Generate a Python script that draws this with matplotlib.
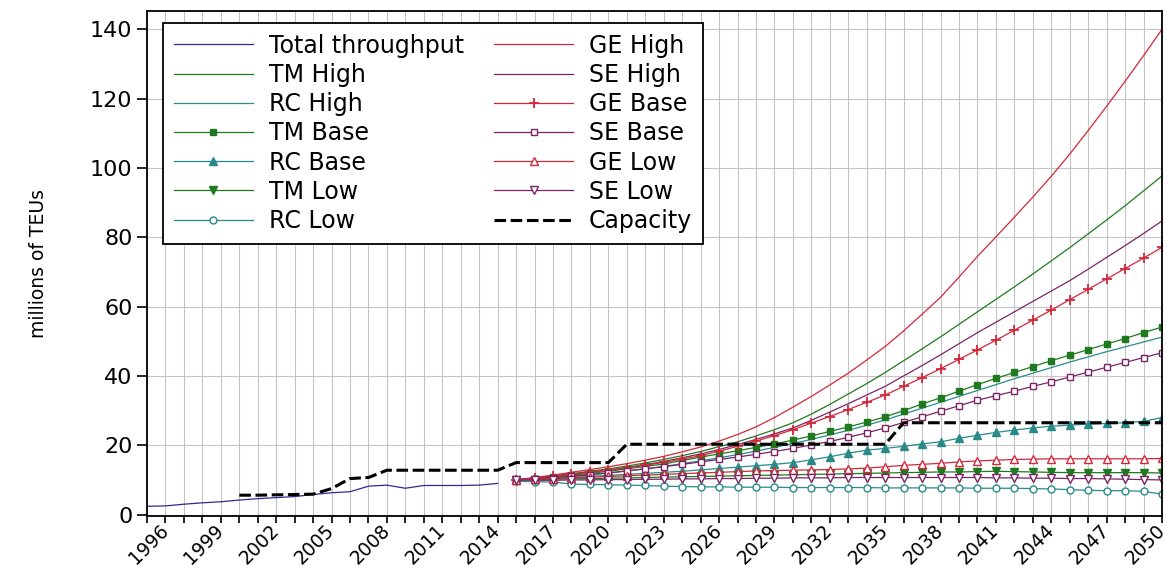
import matplotlib
matplotlib.use("Agg")
import matplotlib.pyplot as plt
import matplotlib.transforms as mtransforms
import numpy as np

plt.rcParams['font.family'] = ['DejaVu Sans']

# --- data (millions of TEUs) ---
hist_years = list(range(1995, 2015))
total_throughput = [2.4, 2.5, 3.0, 3.4, 3.7, 4.2, 4.6, 4.9, 5.2, 5.8,
                    6.3, 6.6, 8.2, 8.5, 7.6, 8.4, 8.4, 8.4, 8.5, 9.0]

cap_years = list(range(2000, 2051))
capacity = [5.6, 5.6, 5.7, 5.8, 5.9, 7.5, 10.4, 10.7, 12.8, 12.8,
            12.8, 12.8, 12.8, 12.8, 12.8, 15.0, 15.0, 15.0, 15.0, 15.0,
            15.0, 20.3, 20.3, 20.3, 20.3, 20.3, 20.3, 20.3, 20.3, 20.3,
            20.3, 20.3, 20.3, 20.3, 20.3, 20.3, 26.5, 26.5, 26.5, 26.5,
            26.5, 26.5, 26.5, 26.5, 26.5, 26.5, 26.5, 26.5, 26.5, 26.5,
            26.5]

fc_years = list(range(2015, 2051))
ge_high = [10.0, 10.7, 11.4, 12.2, 13.0, 13.8, 14.7, 15.7, 16.8, 18.1,
           19.5, 21.2, 23.1, 25.3, 28.0, 31.0, 34.1, 37.4, 40.8, 44.6,
           48.5, 53.0, 57.8, 62.7, 68.5, 74.5, 80.1, 85.8, 91.6, 97.6,
           104.0, 110.8, 117.8, 125.0, 132.4, 140.0]
tm_high = [10.0, 10.6, 11.2, 11.8, 12.5, 13.2, 14.0, 14.9, 15.9, 17.0,
           18.2, 19.6, 21.0, 22.7, 24.5, 26.5, 29.0, 31.8, 34.8, 37.8,
           41.0, 44.4, 47.8, 51.3, 54.9, 58.5, 62.1, 65.7, 69.4, 73.2,
           77.0, 81.0, 85.0, 89.1, 93.4, 97.7]
se_high = [10.0, 10.5, 11.0, 11.6, 12.2, 12.8, 13.6, 14.4, 15.3, 16.4,
           17.5, 18.8, 20.2, 21.7, 23.3, 25.0, 27.2, 29.6, 32.0, 34.5,
           37.0, 40.0, 43.0, 46.1, 49.3, 52.5, 55.5, 58.5, 61.5, 64.5,
           67.5, 70.8, 74.2, 77.6, 81.1, 84.7]
ge_base = [10.0, 10.5, 11.0, 11.6, 12.2, 12.8, 13.5, 14.2, 15.1, 16.0,
           17.0, 18.3, 19.7, 21.2, 22.8, 24.5, 26.4, 28.3, 30.3, 32.4,
           34.5, 37.0, 39.5, 42.1, 44.8, 47.5, 50.3, 53.2, 56.1, 59.0,
           62.0, 65.0, 68.0, 71.0, 74.0, 77.1]
tm_base = [10.0, 10.4, 10.9, 11.4, 11.9, 12.5, 13.2, 13.9, 14.6, 15.6,
           16.6, 17.5, 18.4, 19.4, 20.4, 21.5, 22.7, 24.0, 25.3, 26.7,
           28.2, 30.0, 31.9, 33.7, 35.6, 37.5, 39.3, 41.0, 42.7, 44.4,
           46.0, 47.6, 49.2, 50.8, 52.5, 54.1]
rc_high = [10.0, 10.3, 10.7, 11.1, 11.5, 12.0, 12.6, 13.2, 13.9, 14.7,
           15.5, 16.4, 17.3, 18.3, 19.4, 20.5, 21.7, 23.0, 24.3, 25.8,
           27.3, 29.0, 30.7, 32.4, 34.1, 35.8, 37.5, 39.2, 40.8, 42.4,
           44.0, 45.5, 47.0, 48.4, 49.8, 51.2]
se_base = [10.0, 10.3, 10.6, 11.0, 11.5, 12.0, 12.6, 13.2, 13.8, 14.5,
           15.2, 15.9, 16.6, 17.4, 18.2, 19.1, 20.1, 21.1, 22.3, 23.6,
           25.0, 26.6, 28.2, 29.8, 31.4, 33.0, 34.3, 35.6, 37.0, 38.3,
           39.7, 41.1, 42.5, 43.9, 45.3, 46.7]
rc_base = [10.0, 10.2, 10.4, 10.7, 11.0, 11.3, 11.6, 11.9, 12.2, 12.5,
           12.9, 13.3, 13.7, 14.1, 14.5, 15.0, 15.8, 16.7, 17.7, 18.6,
           19.1, 19.7, 20.4, 21.0, 22.0, 22.9, 23.7, 24.4, 25.0, 25.5,
           25.8, 26.1, 26.3, 26.5, 26.9, 28.0]
ge_low = [10.0, 10.2, 10.4, 10.6, 10.8, 11.0, 11.2, 11.4, 11.6, 11.8,
          12.0, 12.2, 12.4, 12.6, 12.7, 12.8, 12.9, 13.0, 13.2, 13.4,
          13.8, 14.2, 14.5, 14.8, 15.2, 15.5, 15.7, 15.9, 16.0, 16.1,
          16.1, 16.1, 16.1, 16.1, 16.1, 16.2]
tm_low = [10.0, 10.1, 10.2, 10.3, 10.4, 10.5, 10.6, 10.7, 10.8, 10.9,
          11.0, 11.1, 11.2, 11.3, 11.4, 11.5, 11.6, 11.7, 11.8, 11.9,
          12.0, 12.1, 12.2, 12.3, 12.3, 12.4, 12.5, 12.4, 12.3, 12.2,
          12.1, 12.1, 12.1, 12.1, 12.1, 12.0]
se_low = [10.0, 9.9, 9.9, 10.0, 10.0, 10.1, 10.1, 10.2, 10.2, 10.3,
          10.3, 10.4, 10.4, 10.5, 10.5, 10.6, 10.6, 10.6, 10.7, 10.7,
          10.7, 10.7, 10.7, 10.7, 10.7, 10.7, 10.6, 10.6, 10.5, 10.5,
          10.4, 10.4, 10.3, 10.2, 10.1, 10.0]
rc_low = [9.6, 9.5, 9.4, 8.8, 8.7, 8.6, 8.5, 8.4, 8.2, 8.1,
          8.0, 8.0, 7.9, 7.9, 7.9, 7.8, 7.8, 7.8, 7.8, 7.8,
          7.7, 7.7, 7.7, 7.7, 7.7, 7.6, 7.6, 7.6, 7.5, 7.4,
          7.2, 7.0, 6.9, 6.9, 6.7, 5.9]

label_years = list(range(1996, 2051, 3))

# colours
c_total = '#2b2b92'
c_tm = '#1f7a1f'
c_rc = '#2a8a8a'
c_ge = '#d2283a'
c_se = '#7a2466'

fig = plt.figure(figsize=(11.67, 5.78), dpi=100)
ax = fig.add_axes([0.126, 0.1073, 0.8697, 0.8737])

lw = 0.9
ms = 5
h = {}
h['Total throughput'], = ax.plot(hist_years, total_throughput, color=c_total, lw=lw)
h['TM High'], = ax.plot(fc_years, tm_high, color=c_tm, lw=lw)
h['RC High'], = ax.plot(fc_years, rc_high, color=c_rc, lw=lw)
h['TM Base'], = ax.plot(fc_years, tm_base, color=c_tm, lw=lw, marker='s', ms=ms,
                        mfc=c_tm, mec=c_tm)
h['RC Base'], = ax.plot(fc_years, rc_base, color=c_rc, lw=lw, marker='^', ms=ms + 0.5,
                        mfc=c_rc, mec=c_rc)
h['TM Low'], = ax.plot(fc_years, tm_low, color=c_tm, lw=lw, marker='v', ms=ms + 0.5,
                       mfc=c_tm, mec=c_tm)
h['RC Low'], = ax.plot(fc_years, rc_low, color=c_rc, lw=lw, marker='o', ms=ms,
                       mfc='white', mec=c_rc, mew=1.0)
h['GE High'], = ax.plot(fc_years, ge_high, color=c_ge, lw=lw)
h['SE High'], = ax.plot(fc_years, se_high, color=c_se, lw=lw)
h['GE Base'], = ax.plot(fc_years, ge_base, color=c_ge, lw=lw, marker='+', ms=ms + 2,
                        mew=1.3)
h['SE Base'], = ax.plot(fc_years, se_base, color=c_se, lw=lw, marker='s', ms=ms,
                        mfc='white', mec=c_se, mew=1.0)
h['GE Low'], = ax.plot(fc_years, ge_low, color=c_ge, lw=lw, marker='^', ms=ms + 0.5,
                       mfc='white', mec=c_ge, mew=1.0)
h['SE Low'], = ax.plot(fc_years, se_low, color=c_se, lw=lw, marker='v', ms=ms + 0.5,
                       mfc='white', mec=c_se, mew=1.0)
h['Capacity'], = ax.plot(cap_years, capacity, color='black', lw=2.2,
                         linestyle=(0, (3.8, 1.5)))

# axes
ax.set_xlim(1995, 2050)
ax.set_ylim(-0.4, 145.3)
all_years = list(range(1995, 2051))
ax.set_xticks(all_years)
ax.set_xticklabels([str(y) if y in label_years else '' for y in all_years],
                   rotation=45, ha='right', va='center', rotation_mode='anchor',
                   fontsize=13.5)
# nudge the rotated labels so their right corner sits at the tick
shift = mtransforms.ScaledTranslation(-0.05, -0.04, fig.dpi_scale_trans)
for lab in ax.get_xticklabels():
    lab.set_transform(lab.get_transform() + shift)
ax.set_yticks(range(0, 141, 20))
ax.tick_params(axis='y', labelsize=16, length=7, width=1.2, direction='out')
ax.tick_params(axis='x', length=5, width=1.2, direction='out', pad=3)
ax.grid(True, color='#c4c4c4', lw=0.8)
ax.set_axisbelow(True)
for sp in ax.spines.values():
    sp.set_linewidth(1.3)
ax.set_ylabel('millions of TEUs', fontsize=13.5, labelpad=30)

order = ['Total throughput', 'TM High', 'RC High', 'TM Base', 'RC Base', 'TM Low', 'RC Low',
         'GE High', 'SE High', 'GE Base', 'SE Base', 'GE Low', 'SE Low', 'Capacity']
leg = ax.legend([h[k] for k in order], order, ncol=2, loc='upper left',
                bbox_to_anchor=(0.0158, 0.976), fontsize=17, frameon=True,
                fancybox=False, framealpha=1, edgecolor='black',
                handlelength=3.35, handletextpad=0.68, columnspacing=1.27,
                labelspacing=0.22, borderpad=0.45, borderaxespad=0)
leg.get_frame().set_linewidth(1.3)

fig.savefig('out.png', dpi=100)
